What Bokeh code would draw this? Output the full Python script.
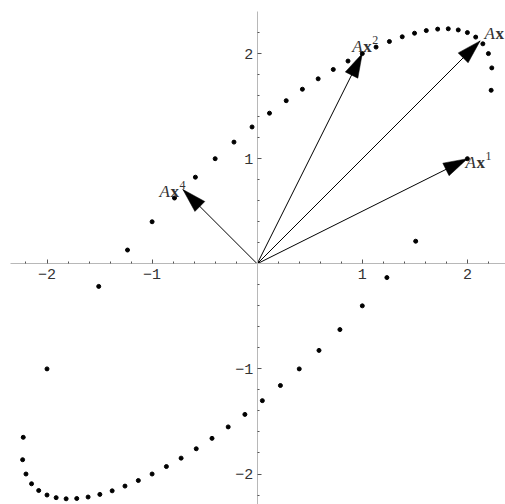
from math import hypot

from bokeh.core.properties import value
from bokeh.embed import file_html
from bokeh.models import ColumnDataSource, FixedTicker, LinearAxis, Range1d
from bokeh.plotting import figure
from bokeh.resources import INLINE

# Images A·x of unit vectors x = (t, ±sqrt(1 - t²)), A = [[2, 1], [1, 2]]
image_x = [
    2.0, 2.226, 2.232, 2.2, 2.147, 2.079, 2.0, 1.913, 1.818, 1.717, 1.609,
    1.497, 1.380, 1.258, 1.131, 1.0, 0.864, 0.724, 0.580, 0.430, 0.276,
    0.117, -0.049, -0.221, -0.4, -0.588, -0.787, -1.0, -1.234, -1.508, -2.0,
    1.508, 1.234, 1.0, 0.787, 0.588, 0.4, 0.221, 0.049, -0.117, -0.276,
    -0.430, -0.580, -0.724, -0.864, -1.0, -1.131, -1.258, -1.380, -1.497,
    -1.609, -1.717, -1.818, -1.913, -2.0, -2.079, -2.147, -2.2, -2.232, -2.226,
]
image_y = [
    1.0, 1.651, 1.864, 2.0, 2.093, 2.157, 2.2, 2.225, 2.236, 2.233, 2.219,
    2.194, 2.160, 2.115, 2.062, 2.0, 1.929, 1.849, 1.760, 1.661, 1.552,
    1.433, 1.302, 1.158, 1.0, 0.824, 0.626, 0.4, 0.131, -0.215, -1.0,
    0.215, -0.131, -0.4, -0.626, -0.824, -1.0, -1.158, -1.302, -1.433, -1.552,
    -1.661, -1.760, -1.849, -1.929, -2.0, -2.062, -2.115, -2.160, -2.194,
    -2.219, -2.233, -2.236, -2.225, -2.2, -2.157, -2.093, -2.0, -1.864, -1.651,
]

# Arrow vectors: A x, A x1, A x2, A x4
vec_x = [2.121, 2.0, 1.0, -0.707]
vec_y = [2.121, 1.0, 2.0, 0.707]
vec_power = ["", "1", "2", "4"]

major_ticks = [-2, -1, 1, 2]
minor_ticks = [-2.2, -1.8, -1.6, -1.4, -1.2, -0.8, -0.6, -0.4, -0.2,
               0.2, 0.4, 0.6, 0.8, 1.2, 1.4, 1.6, 1.8, 2.2]
tick_labels = {-2: "\u22122", -1: "\u22121", 1: "1", 2: "2"}

# ---- layout -------------------------------------------------------------
W, H = 505, 504
PX = 105.1                     # pixels per data unit (same on both axes)
ORIGIN_PX = (256.7, 263.3)     # origin position in the canvas
x0 = -ORIGIN_PX[0] / PX
y1 = ORIGIN_PX[1] / PX

p = figure(
    width=W, height=H,
    x_range=Range1d(x0, x0 + W / PX), y_range=Range1d(y1 - H / PX, y1),
    x_axis_type=None, y_axis_type=None,
    output_backend="svg", toolbar_location=None, min_border=0,
)
p.outline_line_color = None
p.background_fill_color = "white"
p.border_fill_color = "white"

AXIS_FONT = "Liberation Mono"
for side, bounds in (("below", (-2.345, 2.6)), ("left", (-2.6, 2.40))):
    ax = LinearAxis(
        fixed_location=0,
        ticker=FixedTicker(ticks=major_ticks, minor_ticks=minor_ticks),
        major_label_overrides=tick_labels,
        bounds=bounds,
    )
    ax.axis_line_color = "#b8b8b8"
    ax.axis_line_width = 1
    ax.major_tick_in, ax.major_tick_out = 4, 0
    ax.minor_tick_in, ax.minor_tick_out = 2, 0
    ax.major_tick_line_color = "#555555"
    ax.minor_tick_line_color = "#555555"
    ax.major_label_text_font = AXIS_FONT
    ax.major_label_text_font_size = "15px"
    ax.major_label_text_color = "#333333"
    ax.major_label_standoff = 5 if side == "below" else 4
    p.add_layout(ax, side)

# ---- points -------------------------------------------------------------
p.scatter(image_x, image_y, size=4, color="black")

# ---- arrows -------------------------------------------------------------
p.segment(x0=[0] * len(vec_x), y0=[0] * len(vec_y), x1=vec_x, y1=vec_y,
          line_color="black", line_width=1)

head_len, head_w = 24 / PX, 14 / PX
head_xs, head_ys = [], []
for tx, ty in zip(vec_x, vec_y):
    d = hypot(tx, ty)
    ux, uy = tx / d, ty / d
    bx, by = tx - head_len * ux, ty - head_len * uy
    nx, ny = -uy * head_w / 2, ux * head_w / 2
    head_xs.append([tx, bx + nx, bx - nx])
    head_ys.append([ty, by + ny, by - ny])
p.patches(head_xs, head_ys, fill_color="black", line_color="black", line_width=0.5)

# ---- labels "A x^k" -----------------------------------------------------
label_dx = [4.4, -2.0, -10.0, -23.5]    # left of "A", px from the tip
label_dy = [-7.7, 3.5, -7.1, 2.0]       # baseline, px from the tip
LABEL_FONT = "Liberation Serif"
LABEL_COLOR = "#333333"
A_ADV, X_ADV = 11.0, 9.0

src = ColumnDataSource(dict(
    x=vec_x, y=vec_y, sup=vec_power,
    a_dx=label_dx, x_dx=[d + A_ADV for d in label_dx],
    s_dx=[d + A_ADV + X_ADV for d in label_dx],
    dy=label_dy, s_dy=[d - 6.5 for d in label_dy],
    a=["A"] * len(vec_x), v=["x"] * len(vec_x),
))
common = dict(source=src, text_baseline="alphabetic", text_align="left",
              text_color=LABEL_COLOR, text_font=value(LABEL_FONT))
p.text(x="x", y="y", text="a", x_offset="a_dx", y_offset="dy",
       text_font_size="17px", text_font_style="italic", **common)
p.text(x="x", y="y", text="v", x_offset="x_dx", y_offset="dy",
       text_font_size="17px", text_font_style="bold", **common)
p.text(x="x", y="y", text="sup", x_offset="s_dx", y_offset="s_dy",
       text_font_size="12px", **common)

open("out.html", "w").write(file_html(p, INLINE))
